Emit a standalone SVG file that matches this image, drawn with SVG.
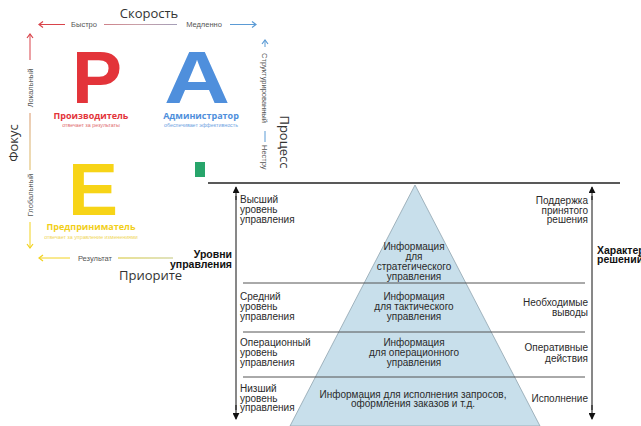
<svg xmlns="http://www.w3.org/2000/svg" width="641" height="426" viewBox="0 0 641 426">
<defs>
<linearGradient id="gTop" gradientUnits="userSpaceOnUse" x1="38" y1="0" x2="257" y2="0">
<stop offset="0" stop-color="#d9434a"/><stop offset="0.45" stop-color="#c9a0a8"/><stop offset="1" stop-color="#5b9bd5"/>
</linearGradient>
<linearGradient id="gLeft" gradientUnits="userSpaceOnUse" x1="0" y1="33" x2="0" y2="250">
<stop offset="0" stop-color="#d9434a"/><stop offset="0.5" stop-color="#d9b070"/><stop offset="1" stop-color="#f2d21e"/>
</linearGradient>
<linearGradient id="gBot" gradientUnits="userSpaceOnUse" x1="38" y1="0" x2="173" y2="0">
<stop offset="0" stop-color="#f2d21e"/><stop offset="1" stop-color="#d6d9a6"/>
</linearGradient>
<marker id="ah" viewBox="0 0 8 8" refX="7" refY="4" markerWidth="7" markerHeight="7" orient="auto" markerUnits="userSpaceOnUse">
<path d="M0,0 L8,4 L0,8 Z" fill="#111"/>
</marker>
</defs>
<style>
.lbl{font-family:"Liberation Sans",Arial,sans-serif;font-size:7.5px;fill:#555}
.ttl{font-family:"Open Sans","Liberation Sans",sans-serif;font-size:13px;fill:#333}
.big{font-family:"Liberation Sans",Arial,sans-serif;font-weight:bold;font-size:75px}
.role{font-family:"Open Sans","Liberation Sans",sans-serif;font-weight:bold;font-size:9px;text-anchor:middle}
.sub{font-family:"Liberation Sans",sans-serif;font-size:5.3px;text-anchor:middle}
.t{font-family:"Liberation Sans",Arial,sans-serif;font-size:10px;fill:#2a2a2a}
.tb{font-family:"Liberation Sans",Arial,sans-serif;font-size:10.5px;font-weight:bold;fill:#111}
.sep{stroke:#555;stroke-width:1}
</style>

<g id="connectors">
<!-- top speed axis -->
<line x1="39" y1="24.5" x2="65" y2="24.5" stroke="#d9434a" stroke-width="1"/>
<polyline points="43,21.5 39,24.5 43,27.5" fill="none" stroke="#d9434a" stroke-width="1.2"/>
<line x1="104" y1="24.5" x2="177" y2="24.5" stroke="url(#gTop)" stroke-width="1"/>
<line x1="230" y1="24.5" x2="256" y2="24.5" stroke="#5b9bd5" stroke-width="1"/>
<polyline points="252,21.5 256,24.5 252,27.5" fill="none" stroke="#5b9bd5" stroke-width="1.2"/>
<!-- left focus axis -->
<line x1="30" y1="34" x2="30" y2="60" stroke="#d9434a" stroke-width="1"/>
<polyline points="27,38 30,34 33,38" fill="none" stroke="#d9434a" stroke-width="1.2"/>
<line x1="30" y1="113" x2="30" y2="170" stroke="url(#gLeft)" stroke-width="1"/>
<line x1="30" y1="222" x2="30" y2="248" stroke="#f2d21e" stroke-width="1"/>
<polyline points="27,244 30,248 33,244" fill="none" stroke="#f2d21e" stroke-width="1.2"/>
<!-- bottom result axis -->
<line x1="39" y1="258" x2="70" y2="258" stroke="#f2d21e" stroke-width="1"/>
<polyline points="43,255 39,258 43,261" fill="none" stroke="#f2d21e" stroke-width="1.2"/>
<line x1="118" y1="258" x2="173" y2="258" stroke="url(#gBot)" stroke-width="1.5"/>
<!-- right process axis -->
<line x1="265" y1="40" x2="265" y2="47" stroke="#5b9bd5" stroke-width="1"/>
<polyline points="262,44 265,40 268,44" fill="none" stroke="#5b9bd5" stroke-width="1.2"/>
<line x1="265" y1="131" x2="265" y2="142" stroke="#5b9bd5" stroke-width="1"/>
<!-- pyramid frame -->
<line x1="208" y1="183" x2="620" y2="183" stroke="#222" stroke-width="1.5"/>
<line x1="236" y1="196" x2="236" y2="410" stroke="#111" stroke-width="1"/>
<line x1="236" y1="200" x2="236" y2="187" stroke="#111" stroke-width="1" marker-end="url(#ah)"/>
<line x1="236" y1="405" x2="236" y2="419" stroke="#111" stroke-width="1" marker-end="url(#ah)"/>
<line x1="592" y1="196" x2="592" y2="410" stroke="#111" stroke-width="1"/>
<line x1="592" y1="200" x2="592" y2="187" stroke="#111" stroke-width="1" marker-end="url(#ah)"/>
<line x1="592" y1="405" x2="592" y2="419" stroke="#111" stroke-width="1" marker-end="url(#ah)"/>
</g>

<g id="axis-labels">
<text class="ttl" x="149" y="18" text-anchor="middle">Скорость</text>
<text class="lbl" x="84" y="27" text-anchor="middle">Быстро</text>
<text class="lbl" x="204" y="27" text-anchor="middle">Медленно</text>
<text class="lbl" transform="translate(30,88) rotate(-90)" text-anchor="middle" dy="2.7">Локальный</text>
<text class="lbl" transform="translate(30,195) rotate(-90)" text-anchor="middle" dy="2.7">Глобальный</text>
<text class="ttl" transform="translate(13,143) rotate(-90)" text-anchor="middle" dy="4.5">Фокус</text>
<text class="lbl" x="95" y="261" text-anchor="middle">Результат</text>
<text class="ttl" x="119" y="280">Приорите</text>
<text class="lbl" transform="translate(265,88) rotate(90)" text-anchor="middle" dy="2.7">Структурированный</text>
<text class="lbl" transform="translate(265,145) rotate(90)" dy="2.7">Нестру</text>
<text class="ttl" transform="translate(284,142) rotate(90)" text-anchor="middle" dy="4.5">Процесс</text>
</g>

<g id="node-P">
<text class="big" x="97" y="103" text-anchor="middle" fill="#e3343a">P</text>
<text class="role" x="91" y="119" fill="#e3343a">Производитель</text>
<text class="sub" x="91" y="127" fill="#e06a6e">отвечает за результаты</text>
</g>
<g id="node-A">
<text class="big" x="0" y="0" text-anchor="middle" fill="#4f8fdc" transform="translate(197,103) scale(1.22,1)">A</text>
<text class="role" x="201" y="119" fill="#4f8fdc">Администратор</text>
<text class="sub" x="201" y="127" fill="#6fa3df">обеспечивает эффективность</text>
</g>
<g id="node-E">
<text class="big" x="93" y="215" text-anchor="middle" fill="#f7d417">E</text>
<text class="role" x="91" y="230" fill="#f2cf1a">Предприниматель</text>
<text class="sub" x="91" y="239" fill="#f0d65a">отвечает за управление изменениями</text>
</g>
<rect id="green-mark" x="195" y="162" width="10" height="15" fill="#27a56b"/>

<g id="pyramid">
<polygon points="415,185 290,426 540,426" fill="#c8dfeb" stroke="#8fa3ae" stroke-width="0.8"/>
<line class="sep" x1="243" y1="283" x2="585" y2="283"/>
<line class="sep" x1="243" y1="332" x2="585" y2="332"/>
<line class="sep" x1="243" y1="377" x2="585" y2="377"/>
</g>

<g id="level-top">
<text class="t" x="240" y="203">Высший</text>
<text class="t" x="240" y="213">уровень</text>
<text class="t" x="240" y="223">управления</text>
<text class="t" text-anchor="middle" x="414" y="250">Информация</text>
<text class="t" text-anchor="middle" x="414" y="260">для</text>
<text class="t" text-anchor="middle" x="414" y="270">стратегического</text>
<text class="t" text-anchor="middle" x="414" y="280">управления</text>
<text class="t" text-anchor="end" x="588" y="204">Поддержка</text>
<text class="t" text-anchor="end" x="588" y="214">принятого</text>
<text class="t" text-anchor="end" x="588" y="223">решения</text>
</g>
<g id="level-middle">
<text class="t" x="240" y="300">Средний</text>
<text class="t" x="240" y="310">уровень</text>
<text class="t" x="240" y="320">управления</text>
<text class="t" text-anchor="middle" x="414" y="300">Информация</text>
<text class="t" text-anchor="middle" x="414" y="310">для тактического</text>
<text class="t" text-anchor="middle" x="414" y="320">управления</text>
<text class="t" text-anchor="end" x="588" y="306">Необходимые</text>
<text class="t" text-anchor="end" x="588" y="316">выводы</text>
</g>
<g id="level-operational">
<text class="t" x="240" y="346">Операционный</text>
<text class="t" x="240" y="356">уровень</text>
<text class="t" x="240" y="366">управления</text>
<text class="t" text-anchor="middle" x="414" y="346">Информация</text>
<text class="t" text-anchor="middle" x="414" y="356">для операционного</text>
<text class="t" text-anchor="middle" x="414" y="366">управления</text>
<text class="t" text-anchor="end" x="588" y="351">Оперативные</text>
<text class="t" text-anchor="end" x="588" y="362">действия</text>
</g>
<g id="level-bottom">
<text class="t" x="240" y="392">Низший</text>
<text class="t" x="240" y="402">уровень</text>
<text class="t" x="240" y="411">управления</text>
<text class="t" text-anchor="middle" x="413" y="398">Информация для исполнения запросов,</text>
<text class="t" text-anchor="middle" x="413" y="407">оформления заказов и т.д.</text>
<text class="t" text-anchor="end" x="588" y="402">Исполнение</text>
</g>
<g id="side-titles">
<text class="tb" text-anchor="end" x="232" y="258">Уровни</text>
<text class="tb" text-anchor="end" x="232" y="268">управления</text>
<text class="tb" x="597" y="254">Характер</text>
<text class="tb" x="597" y="263">решений</text>
</g>
</svg>
